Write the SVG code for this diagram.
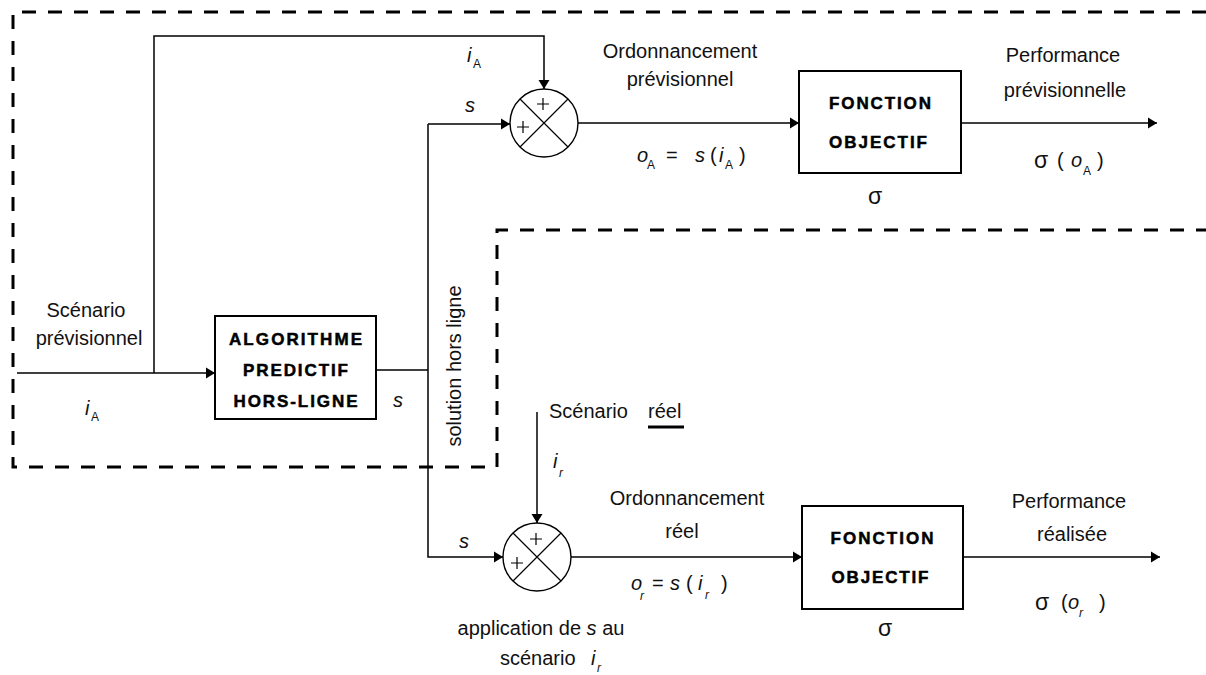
<svg xmlns="http://www.w3.org/2000/svg" width="1206" height="675" viewBox="0 0 1206 675">
<style>
.t{font-family:"Liberation Sans",Arial,sans-serif;font-size:20px;fill:#111}
.it{font-style:italic}
.sub{font-size:12px}
.sg{font-size:23px}
.b{font-family:"Liberation Sans",Arial,sans-serif;font-size:17px;font-weight:bold;fill:#000;stroke:#000;stroke-width:0.5}
.c{text-anchor:middle}
.ln{fill:none;stroke:#000;stroke-width:1.5}
.box{fill:#fff;stroke:#000;stroke-width:2}
.sum{fill:#fff;stroke:#000;stroke-width:1.4}
.x{stroke:#000;stroke-width:1.2}
.frame{fill:none;stroke:#000;stroke-width:3;stroke-dasharray:14 12}
</style>
<defs>
<marker id="ah" markerUnits="userSpaceOnUse" markerWidth="10" markerHeight="12" refX="9" refY="6" orient="auto">
<path d="M0,0.5 L9,6 L0,11.5 z" fill="#000"/>
</marker>
</defs>
<rect width="1206" height="675" fill="#fff"/>

<g id="frame">
<path class="frame" d="M1206,12 H13 V467 H497 V230 H1206"/>
</g>

<g id="connectors">
<path class="ln" d="M17,373 H215" marker-end="url(#ah)"/>
<path class="ln" d="M154,373 V36 H544 V89" marker-end="url(#ah)"/>
<path class="ln" d="M376,370 H428"/>
<path class="ln" d="M428,124 H510" marker-end="url(#ah)"/>
<path class="ln" d="M428,124 V557 H503" marker-end="url(#ah)"/>
<path class="ln" d="M578,123 H799" marker-end="url(#ah)"/>
<path class="ln" d="M961,123 H1157" marker-end="url(#ah)"/>
<path class="ln" d="M537,412 V523" marker-end="url(#ah)"/>
<path class="ln" d="M571,557 H802" marker-end="url(#ah)"/>
<path class="ln" d="M963,557 H1160" marker-end="url(#ah)"/>
</g>

<g id="algo">
<rect class="box" x="215" y="316" width="161" height="103"/>
<text class="b c" x="295.5" y="345" textLength="133" lengthAdjust="spacing">ALGORITHME</text>
<text class="b c" x="295.5" y="376" textLength="105" lengthAdjust="spacing">PREDICTIF</text>
<text class="b c" x="295.5" y="407" textLength="124" lengthAdjust="spacing">HORS-LIGNE</text>
</g>

<g id="sum1">
<circle class="sum" cx="544" cy="123" r="34"/>
<path class="x" d="M520,99 L568,147 M568,99 L520,147"/>
<path class="x" d="M537,104 H549 M543,98 V110 M517,127 H529 M523,121 V133"/>
</g>

<g id="sum2">
<circle class="sum" cx="537" cy="557" r="34"/>
<path class="x" d="M513,533 L561,581 M561,533 L513,581"/>
<path class="x" d="M530,539 H542 M536,533 V545 M511,563 H523 M517,557 V569"/>
</g>

<g id="obj1">
<rect class="box" x="799" y="71" width="162" height="102"/>
<text class="b c" x="880" y="109" textLength="102" lengthAdjust="spacing">FONCTION</text>
<text class="b c" x="878" y="148" textLength="98" lengthAdjust="spacing">OBJECTIF</text>
<text class="t sg c" x="875" y="204">σ</text>
</g>

<g id="obj2">
<rect class="box" x="802" y="506" width="161" height="103"/>
<text class="b c" x="882" y="544" textLength="103" lengthAdjust="spacing">FONCTION</text>
<text class="b c" x="880" y="583" textLength="97" lengthAdjust="spacing">OBJECTIF</text>
<text class="t sg c" x="885" y="636">σ</text>
</g>

<g id="labels">
<text class="t c" x="86" y="317">Scénario</text>
<text class="t c" x="89" y="345">prévisionnel</text>
<text class="t it" x="85" y="415">i</text><text class="t sub" x="91" y="421">A</text>

<text class="t it" x="467" y="62">i</text><text class="t sub" x="473" y="68">A</text>
<text class="t it" x="465" y="112">s</text>
<text class="t it" x="393" y="407">s</text>

<text class="t c" x="680" y="58">Ordonnancement</text>
<text class="t c" x="680" y="86">prévisionnel</text>
<text class="t it" x="637" y="162">o</text><text class="t sub" x="647" y="169">A</text>
<text class="t" x="666" y="162">=</text>
<text class="t it" x="695" y="162">s</text>
<text class="t" x="710" y="162">(</text>
<text class="t it" x="719" y="162">i</text><text class="t sub" x="725" y="169">A</text>
<text class="t" x="739" y="162">)</text>

<text class="t c" x="1063" y="62">Performance</text>
<text class="t c" x="1065" y="97">prévisionnelle</text>
<text class="t sg" x="1034" y="168">σ</text>
<text class="t" x="1057" y="167">(</text>
<text class="t it" x="1071" y="167">o</text><text class="t sub" x="1083" y="175">A</text>
<text class="t" x="1097" y="167">)</text>

<text class="t c" transform="translate(461,366) rotate(-90)">solution hors ligne</text>

<text class="t" x="549" y="418">Scénario</text>
<text class="t" x="648" y="418">réel</text>
<path d="M648,427 H684" stroke="#000" stroke-width="3"/>
<text class="t it" x="553" y="468">i</text><text class="t sub it" x="559" y="477">r</text>

<text class="t it" x="459" y="548">s</text>
<text class="t c" x="687" y="505">Ordonnancement</text>
<text class="t c" x="682" y="538">réel</text>
<text class="t it" x="631" y="590">o</text><text class="t sub it" x="640" y="600">r</text>
<text class="t" x="652" y="590">=</text>
<text class="t it" x="670" y="590">s</text>
<text class="t" x="686" y="590">(</text>
<text class="t it" x="698" y="590">i</text><text class="t sub it" x="705" y="599">r</text>
<text class="t" x="721" y="590">)</text>

<text class="t c" x="541" y="635">application de <tspan class="it">s</tspan> au</text>
<text class="t" x="500" y="665">scénario</text>
<text class="t it" x="591" y="665">i</text><text class="t sub it" x="597" y="672">r</text>

<text class="t c" x="1069" y="508">Performance</text>
<text class="t c" x="1072" y="541">réalisée</text>
<text class="t sg" x="1035" y="610">σ</text>
<text class="t" x="1061" y="609">(</text>
<text class="t it" x="1068" y="609">o</text><text class="t sub it" x="1079" y="617">r</text>
<text class="t" x="1099" y="609">)</text>
</g>
</svg>
